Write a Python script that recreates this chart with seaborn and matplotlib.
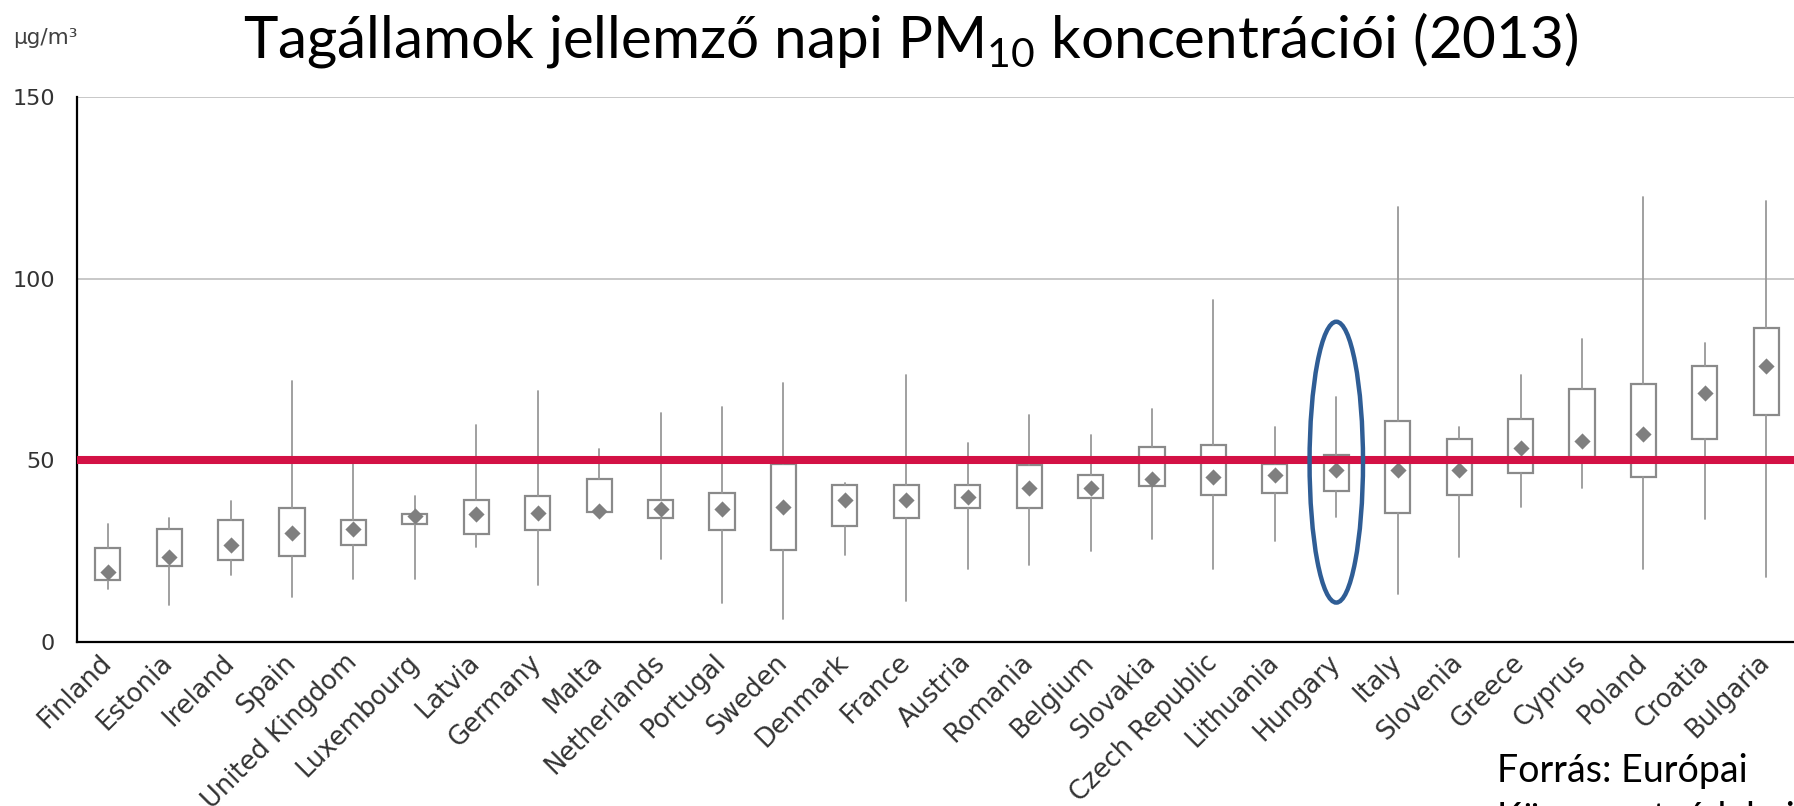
import numpy as np
import pandas as pd
import matplotlib
matplotlib.use("Agg")
import matplotlib.pyplot as plt
import matplotlib.transforms as mtransforms
from matplotlib.patches import Ellipse
import seaborn as sns

countries = ["Finland", "Estonia", "Ireland", "Spain", "United Kingdom", "Luxembourg",
             "Latvia", "Germany", "Malta", "Netherlands", "Portugal", "Sweden",
             "Denmark", "France", "Austria", "Romania", "Belgium", "Slovakia",
             "Czech Republic", "Lithuania", "Hungary", "Italy", "Slovenia", "Greece",
             "Cyprus", "Poland", "Croatia", "Bulgaria"]

whisker_high = [32.6, 34.2, 38.8, 71.9, 49.5, 40.3, 59.7, 69.1, 53.0, 63.0, 64.7, 71.3,
                43.8, 73.4, 54.7, 62.5, 57.0, 64.2, 94.2, 59.3, 67.5, 119.8, 59.3, 73.5,
                83.4, 122.6, 82.3, 121.5]
box_high = [25.9, 31.0, 33.7, 36.9, 33.7, 35.3, 39.2, 40.3, 44.8, 39.2, 40.9, 48.9,
            43.1, 43.1, 43.1, 48.6, 45.9, 53.6, 54.3, 49.1, 51.6, 60.7, 55.8, 61.4,
            69.5, 71.1, 76.1, 86.4]
box_low = [17.0, 20.9, 22.5, 23.6, 26.8, 32.4, 29.6, 30.8, 35.8, 34.1, 30.8, 25.4,
           31.9, 34.1, 36.9, 36.9, 39.5, 42.9, 40.5, 41.1, 41.6, 35.6, 40.5, 46.5,
           50.9, 45.4, 55.8, 62.5]
whisker_low = [14.6, 10.3, 18.5, 12.4, 17.4, 17.4, 26.2, 15.7, 35.8, 22.9, 10.8, 6.3,
               23.9, 11.2, 20.1, 21.1, 25.1, 28.4, 20.2, 27.7, 34.4, 13.2, 23.5, 37.1,
               42.5, 20.2, 33.8, 17.9]
means = [19.2, 23.4, 26.8, 30.1, 31.0, 34.7, 35.3, 35.6, 36.0, 36.7, 36.7, 37.2,
         39.1, 39.1, 39.8, 42.4, 42.4, 44.9, 45.3, 45.9, 47.3, 47.3, 47.3, 53.4,
         55.3, 57.3, 68.5, 76.1]

limit_value = 50
highlight = "Hungary"
y_ticks = [0, 50, 100, 150]

sns.set_style("white")
plt.rcParams['font.family'] = ['DejaVu Sans']

W, H = 1794, 806
fig = plt.figure(figsize=(W / 100, H / 100), dpi=100)
ax = fig.add_axes([77 / W, 164 / H, 1720 / W, 545 / H])

df = pd.DataFrame({"country": countries, "pos": np.arange(len(countries)), "mean": means})

stats = [dict(whislo=lo, q1=q1, med=m, q3=q3, whishi=hi)
         for lo, q1, m, q3, hi in zip(whisker_low, box_low, means, box_high, whisker_high)]
box_grey = "#8a8a8a"
ax.bxp(stats, positions=df["pos"], widths=0.41, showfliers=False, showcaps=False,
       manage_ticks=False, patch_artist=True,
       boxprops=dict(facecolor="white", edgecolor=box_grey, linewidth=1.6),
       whiskerprops=dict(color="#999999", linewidth=1.3),
       medianprops=dict(linewidth=0))

sns.scatterplot(data=df, x="pos", y="mean", marker="D", s=68, color="#7f7f7f",
                linewidth=0, zorder=4, legend=False, ax=ax)

ax.axhline(limit_value, color="#D31145", linewidth=5.8, zorder=5)

hi_idx = countries.index(highlight)
ax.add_patch(Ellipse((hi_idx, 49.5), width=0.87, height=77.3, fill=False,
                     edgecolor="#2F5D95", linewidth=3.2, zorder=6))

ax.set_xlim(-0.5, len(countries) - 0.5)
ax.set_ylim(0, 150)
ax.set_yticks(y_ticks)
ax.yaxis.grid(True, color="#c8c8c8", linewidth=1.4)
ax.set_axisbelow(True)
ax.set_xlabel("")
ax.set_ylabel("")

ax.set_xticks(df["pos"])
ax.set_xticklabels(countries, rotation=45, ha="right", va="center",
                   rotation_mode="anchor", fontsize=18.5, color="#333333")
# nudge labels a little to the right, like the original
shift = mtransforms.ScaledTranslation(11 / 100, 0, fig.dpi_scale_trans)
for lab in ax.get_xticklabels():
    lab.set_transform(lab.get_transform() + shift)
ax.set_xticks(np.arange(-0.5, len(countries), 1), minor=True)
ax.tick_params(axis="x", which="major", length=0, pad=12)
ax.tick_params(axis="x", which="minor", length=6, width=1.5, color="black", direction="out")
ax.tick_params(axis="y", length=6, width=1.5, color="black", direction="out",
               pad=10, labelsize=16, labelcolor="#333333")

for side in ["top", "right"]:
    ax.spines[side].set_visible(False)
for side in ["left", "bottom"]:
    ax.spines[side].set_color("black")
    ax.spines[side].set_linewidth(1.6)

fig.text(911 / W, 1 - 57 / H, "Tagállamok jellemző napi PM$_{\\mathregular{10}}$ koncentrációi (2013)",
         ha="center", va="baseline", fontsize=42, family="Lato", color="black")
fig.text(13 / W, 1 - 44 / H, "μg/m³", ha="left", va="baseline", fontsize=15.5, color="#404040")
fig.text(1497 / W, 24 / H, "Forrás: Európai", ha="left", va="baseline",
         fontsize=27, family="Lato", color="black")
fig.text(1497 / W, -24 / H, "Környezetvédelmi", ha="left", va="baseline",
         fontsize=27, family="Lato", color="black")

fig.savefig("out.png", dpi=100)
